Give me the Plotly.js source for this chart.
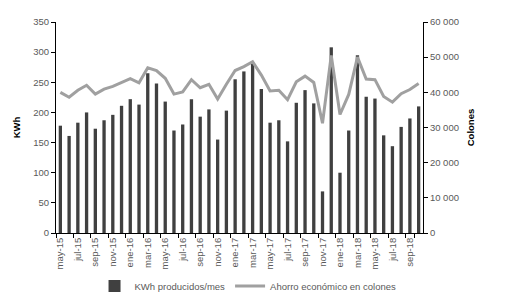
<!DOCTYPE html>
<html><head><meta charset="utf-8">
<script src="https://cdn.plot.ly/plotly-3.0.1.min.js"></script>
<style>html,body{margin:0;padding:0;background:#fff}#c{width:511px;height:298px}</style>
</head><body><div id="c"></div>
<script>
const months = ["may-15","jun-15","jul-15","ago-15","sep-15","oct-15","nov-15","dic-15",
"ene-16","feb-16","mar-16","abr-16","may-16","jun-16","jul-16","ago-16","sep-16","oct-16","nov-16","dic-16",
"ene-17","feb-17","mar-17","abr-17","may-17","jun-17","jul-17","ago-17","sep-17","oct-17","nov-17","dic-17",
"ene-18","feb-18","mar-18","abr-18","may-18","jun-18","jul-18","ago-18","sep-18","oct-18"];
const kwh = [178,161,183,200,173,187,196,211,222,213,265,248,218,170,180,222,193,205,155,203,
255,268,282,239,183,187,152,216,237,215,69,308,100,170,295,226,223,162,144,176,190,210];
const colones = [40000,38600,40600,42000,39500,40900,41700,42900,43900,42700,47000,46200,44000,39500,40100,43600,41300,42300,38100,42300,
46200,47300,48700,44900,40400,40600,37900,43000,44600,42800,31200,50500,33700,39400,50000,43800,43600,38800,37200,39600,40800,42500];
const tickLabels = months.filter((m,i)=>i%2===0);

const fam = "Liberation Sans, Arial, sans-serif";
const tickFont = {family:fam, size:9.5, color:"#595959"};
const data = [
 {type:"bar", x:months, y:kwh, name:"KWh producidos/mes", marker:{color:"#404040"}, yaxis:"y"},
 {type:"scatter", mode:"lines", x:months, y:colones, name:"Ahorro económico en colones", line:{color:"#A0A0A0", width:3}, yaxis:"y2"}
];
const layout = {
 width:511, height:298,
 margin:{l:56, r:88, t:22, b:65, autoexpand:false},
 paper_bgcolor:"#fff", plot_bgcolor:"#fff",
 separators:". ",
 bargap:0.62,
 showlegend:true,
 legend:{orientation:"h", x:0.185, xanchor:"left", xref:"container", yref:"container", y:0.04, yanchor:"middle",
   bgcolor:"rgba(0,0,0,0)", font:{family:fam, size:9.5, color:"#595959"}, traceorder:"normal", itemwidth:30},
 xaxis:{type:"category", tickvals:tickLabels, ticktext:tickLabels, tickangle:-90, tickfont:tickFont, automargin:false,
   showline:true, linecolor:"#000", linewidth:1, ticks:"outside", tickson:"boundaries", ticklen:4, tickcolor:"#000",
   showgrid:false, zeroline:false},
 yaxis:{range:[0,350], dtick:50, tickfont:tickFont, showline:true, linecolor:"#000", linewidth:1, automargin:false,
   ticks:"outside", ticklen:4, tickcolor:"#000", showgrid:false, zeroline:false,
   title:{text:"KWh", font:{family:fam, size:9.5, color:"#000", weight:"bold"}, standoff:10}},
 yaxis2:{range:[0,60000], dtick:10000, overlaying:"y", side:"right", tickformat:",d", tickfont:tickFont, automargin:false,
   showline:true, linecolor:"#000", linewidth:1, ticks:"outside", ticklen:4, tickcolor:"#000", showgrid:false, zeroline:false,
   title:{text:"Colones", font:{family:fam, size:9.5, color:"#000", weight:"bold"}, standoff:9}}
};
Plotly.newPlot("c", data, layout, {displayModeBar:false, staticPlot:true});
</script></body></html>
